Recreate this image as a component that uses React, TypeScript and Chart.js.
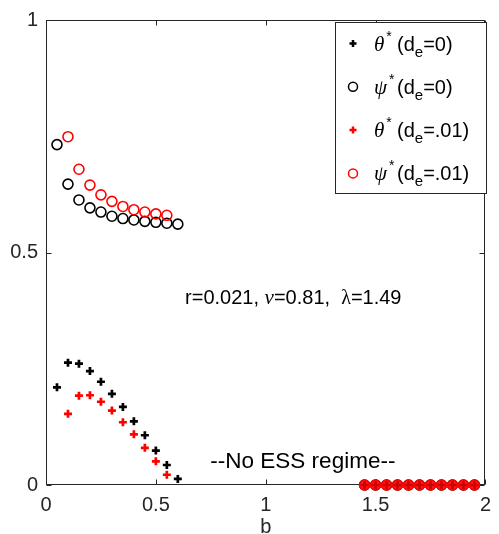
import React, { useEffect, useRef } from "react";
import { Chart, registerables } from "chart.js";

Chart.register(...registerables);

// b values for the low-b branch (d_e = 0)
const bD0 = [0.05, 0.1, 0.15, 0.2, 0.25, 0.3, 0.35, 0.4, 0.45, 0.5, 0.55, 0.6];
const thetaD0 = [0.21, 0.263, 0.261, 0.245, 0.222, 0.196, 0.168, 0.137, 0.107, 0.074, 0.043, 0.013];
const psiD0 = [0.732, 0.647, 0.613, 0.596, 0.587, 0.578, 0.573, 0.57, 0.567, 0.565, 0.563, 0.561];

// b values for the low-b branch (d_e = .01)
const bD01 = [0.1, 0.15, 0.2, 0.25, 0.3, 0.35, 0.4, 0.45, 0.5, 0.55];
const thetaD01 = [0.153, 0.192, 0.193, 0.179, 0.16, 0.135, 0.109, 0.08, 0.051, 0.022];
const psiD01 = [0.749, 0.679, 0.645, 0.624, 0.61, 0.599, 0.592, 0.587, 0.583, 0.58];

// high-b branch (No ESS regime): all zero
const bHigh = [1.45, 1.5, 1.55, 1.6, 1.65, 1.7, 1.75, 1.8, 1.85, 1.9, 1.95];
const zeroHigh = [0, 0, 0, 0, 0, 0, 0, 0, 0, 0, 0];

const xTicks = [0, 0.5, 1, 1.5, 2];
const yTicks = [0, 0.5, 1];

const legendEntries = [
  { greek: "θ", sub: "=0)", color: "#000000", marker: "cross" },
  { greek: "ψ", sub: "=0)", color: "#000000", marker: "circle" },
  { greek: "θ", sub: "=.01)", color: "#ff0000", marker: "cross" },
  { greek: "ψ", sub: "=.01)", color: "#ff0000", marker: "circle" },
];

const AXIS = "#262626";
const SANS = "'Liberation Sans', Arial, Helvetica, sans-serif";
const SERIF = "'Liberation Serif', 'Times New Roman', serif";

function pts(xs: number[], ys: number[]) {
  return xs.map((x, i) => ({ x, y: ys[i] }));
}

const framePlugin = {
  id: "frame",
  beforeDatasetsDraw(chart: any) {
    const { ctx, chartArea: a, scales } = chart;
    ctx.save();
    ctx.strokeStyle = AXIS;
    ctx.lineWidth = 1;
    const L = Math.round(a.left) + 0.5;
    const R = Math.round(a.right) - 0.5;
    const T = Math.round(a.top) + 0.5;
    const B = Math.round(a.bottom) - 0.5;
    ctx.strokeRect(L, T, R - L, B - T);
    const tl = 5;
    ctx.beginPath();
    xTicks.forEach((v) => {
      const px = Math.round(scales.x.getPixelForValue(v)) + 0.5;
      ctx.moveTo(px, B);
      ctx.lineTo(px, B - tl);
      ctx.moveTo(px, T);
      ctx.lineTo(px, T + tl);
    });
    yTicks.forEach((v) => {
      const py = Math.round(scales.y.getPixelForValue(v)) + 0.5;
      ctx.moveTo(L, py);
      ctx.lineTo(L + tl, py);
      ctx.moveTo(R, py);
      ctx.lineTo(R - tl, py);
    });
    ctx.stroke();
    ctx.restore();
  },
  afterDraw(chart: any) {
    const { ctx, scales } = chart;
    ctx.save();
    // Legend box
    const bx = 335, by = 22, bw = 151, bh = 171;
    ctx.fillStyle = "#ffffff";
    ctx.fillRect(bx, by, bw, bh);
    ctx.strokeStyle = AXIS;
    ctx.lineWidth = 1;
    ctx.strokeRect(bx + 0.5, by + 0.5, bw, bh);
    legendEntries.forEach((e, i) => {
      const cy = 43.5 + i * 43.3;
      // marker
      ctx.strokeStyle = e.color;
      ctx.fillStyle = e.color;
      if (e.marker === "cross") {
        ctx.lineWidth = 2.5;
        ctx.beginPath();
        ctx.moveTo(349.5, cy);
        ctx.lineTo(356.5, cy);
        ctx.moveTo(353, cy - 3.5);
        ctx.lineTo(353, cy + 3.5);
        ctx.stroke();
      } else {
        ctx.lineWidth = 1.5;
        ctx.beginPath();
        ctx.arc(353, cy, 4.5, 0, Math.PI * 2);
        ctx.stroke();
      }
      // text
      ctx.fillStyle = "#000000";
      ctx.textBaseline = "alphabetic";
      ctx.textAlign = "left";
      const base = cy + 7;
      let x = 374;
      ctx.font = `italic 21px ${SERIF}`;
      ctx.fillText(e.greek, x, base);
      x += ctx.measureText(e.greek).width + 2;
      ctx.font = `14px ${SANS}`;
      ctx.fillText("*", x, base - 10);
      x = 397;
      ctx.font = `20px ${SANS}`;
      ctx.fillText("(d", x, base);
      x += ctx.measureText("(d").width;
      ctx.font = `15px ${SANS}`;
      ctx.fillText("e", x, base + 6);
      x += ctx.measureText("e").width;
      ctx.font = `20px ${SANS}`;
      ctx.fillText(e.sub, x, base);
    });

    // Parameter annotation
    const ax = scales.x.getPixelForValue(0.633);
    const ay = scales.y.getPixelForValue(0.39);
    let x = ax;
    const base = ay;
    ctx.fillStyle = "#000000";
    ctx.font = `20px ${SANS}`;
    ctx.fillText("r=0.021, ", x, base);
    x += ctx.measureText("r=0.021, ").width;
    ctx.font = `italic 21px ${SERIF}`;
    ctx.fillText("ν", x, base);
    x += ctx.measureText("ν").width;
    ctx.font = `20px ${SANS}`;
    ctx.fillText("=0.81,  ", x, base);
    x += ctx.measureText("=0.81,  ").width;
    ctx.font = `20px ${SERIF}`;
    ctx.fillText("λ", x, base);
    x += ctx.measureText("λ").width;
    ctx.font = `20px ${SANS}`;
    ctx.fillText("=1.49", x, base);

    // No ESS regime
    const nx = scales.x.getPixelForValue(0.748);
    const ny = scales.y.getPixelForValue(0.036);
    ctx.font = `22.5px ${SANS}`;
    ctx.fillText("--No ESS regime--", nx, ny);
    ctx.restore();
  },
};

export default function App() {
  const ref = useRef<HTMLCanvasElement | null>(null);
  useEffect(() => {
    if (!ref.current) return;
    const crossCommon = {
      pointStyle: "cross",
      pointRadius: 4,
      pointBorderWidth: 2.7,
      showLine: false,
      clip: false as any,
    };
    const circleCommon = {
      pointStyle: "circle",
      pointRadius: 5,
      pointBorderWidth: 1.6,
      showLine: false,
      clip: false as any,
    };
    const chart = new Chart(ref.current, {
      type: "scatter",
      data: {
        datasets: [
          {
            label: "θ* (de=0)",
            data: [...pts(bD0, thetaD0), ...pts(bHigh, zeroHigh)],
            borderColor: "#000000",
            backgroundColor: "#000000",
            order: 2,
            ...crossCommon,
          },
          {
            label: "ψ* (de=0)",
            data: [...pts(bD0, psiD0), ...pts(bHigh, zeroHigh)],
            borderColor: "#000000",
            backgroundColor: "rgba(0,0,0,0)",
            order: 2,
            ...circleCommon,
          },
          {
            label: "ψ* (de=.01)",
            data: [...pts(bD01, psiD01), ...pts(bHigh, zeroHigh)],
            borderColor: "#ff0000",
            backgroundColor: (c: any) => (c.raw && c.raw.y === 0 ? "#ff1a1a" : "rgba(0,0,0,0)"),
            order: 1,
            ...circleCommon,
          },
          {
            label: "θ* (de=.01)",
            data: [...pts(bD01, thetaD01), ...pts(bHigh, zeroHigh)],
            borderColor: (c: any) => (c.raw && c.raw.y === 0 ? "#d00000" : "#ff0000"),
            backgroundColor: "#ff0000",
            order: 0,
            ...crossCommon,
          },
        ] as any,
      },
      options: {
        animation: false,
        responsive: false,
        maintainAspectRatio: false,
        layout: { padding: { top: 17, right: 5, left: 0, bottom: 0 } },
        plugins: {
          legend: { display: false },
          tooltip: { enabled: false },
        },
        scales: {
          x: {
            type: "linear",
            min: 0,
            max: 2,
            afterFit: (s: any) => {
              s.height = 49;
            },
            afterBuildTicks: (s: any) => {
              s.ticks = xTicks.map((v) => ({ value: v }));
            },
            grid: { display: false, drawTicks: false },
            border: { display: false },
            ticks: {
              padding: 8,
              color: AXIS,
              font: { family: SANS, size: 20 },
              callback: (v: any) => String(v),
              maxRotation: 0,
              autoSkip: false,
            },
            title: {
              display: true,
              text: "b",
              color: AXIS,
              font: { family: SANS, size: 20, lineHeight: 1 },
              padding: { top: 0, bottom: -3 },
            },
          },
          y: {
            type: "linear",
            min: 0,
            max: 1,
            afterFit: (s: any) => {
              s.width = 46;
            },
            afterBuildTicks: (s: any) => {
              s.ticks = yTicks.map((v) => ({ value: v }));
            },
            grid: { display: false, drawTicks: false },
            border: { display: false },
            ticks: {
              padding: 8,
              color: AXIS,
              font: { family: SANS, size: 20 },
              callback: (v: any) => String(v),
              autoSkip: false,
            },
          },
        },
      } as any,
      plugins: [framePlugin],
    });
    return () => chart.destroy();
  }, []);
  return (
    <div style={{ position: "absolute", left: 0, top: 0, width: 499, height: 534, background: "#fff" }}>
      <canvas ref={ref} width={499} height={534} style={{ width: 499, height: 534, display: "block" }} />
    </div>
  );
}
